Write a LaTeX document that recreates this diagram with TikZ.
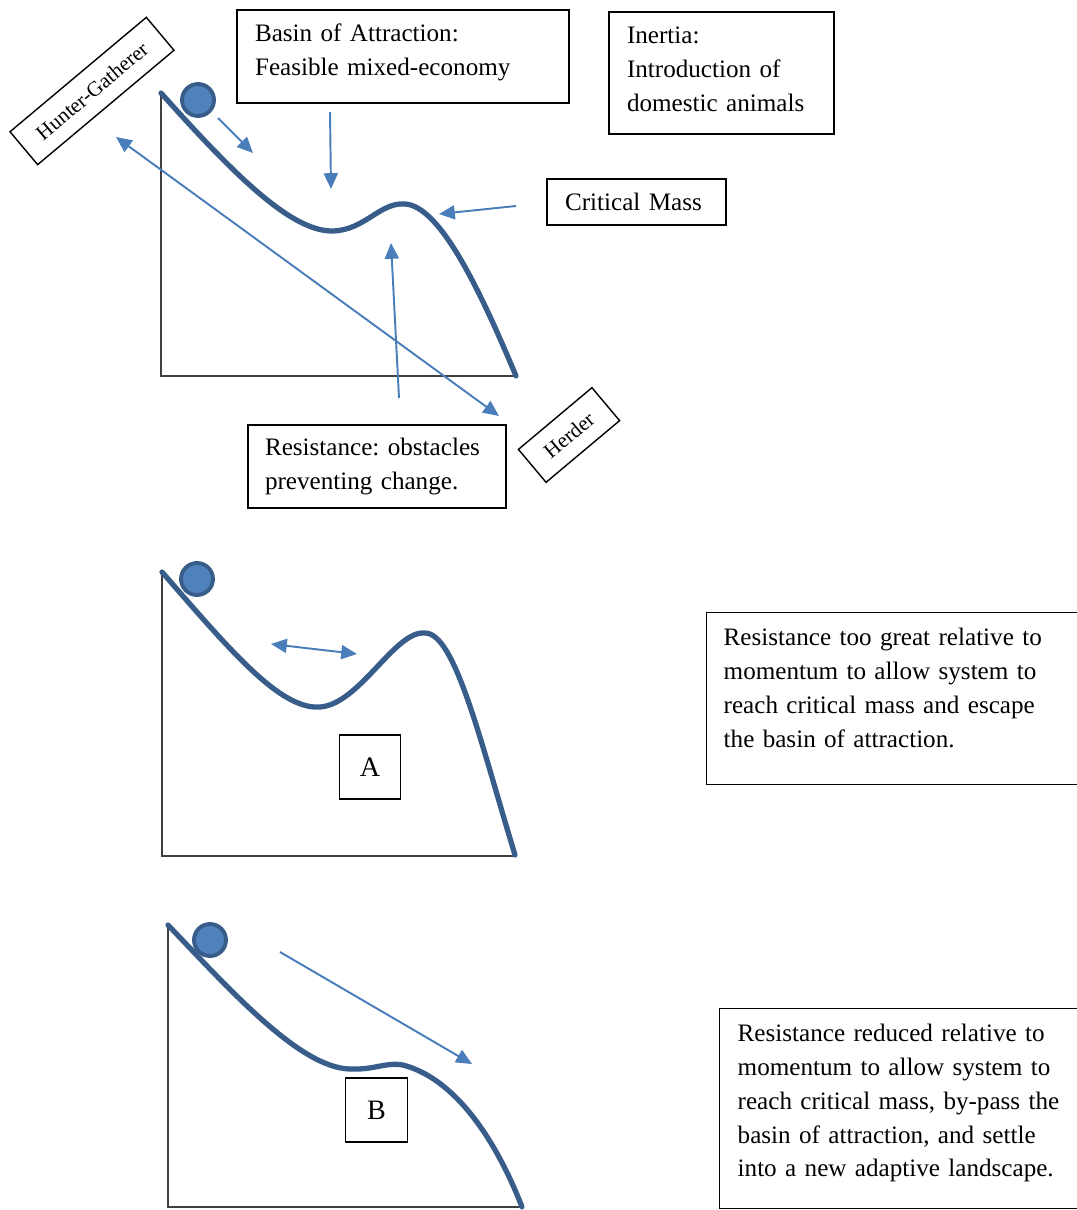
\documentclass[tikz,border=0pt]{standalone}
\usepackage{fontspec}
\setmainfont{Liberation Serif}
\usetikzlibrary{arrows.meta}
\frenchspacing
\definecolor{curveblue}{HTML}{385D8A}
\definecolor{ballblue}{HTML}{4F81BD}
\definecolor{arrowblue}{HTML}{4A7EBB}
\definecolor{axisgray}{HTML}{404040}
\tikzstyle{landscape} = [draw,curveblue,line width=3pt,line cap=round]
\tikzstyle{axis} = [draw,axisgray,line width=1.1pt]
\tikzstyle{edge} = [draw,arrowblue,line width=1.1pt,-{Triangle[length=9pt,width=8pt]}]
\tikzstyle{twoway} = [draw,arrowblue,line width=1.1pt,{Triangle[length=9pt,width=8pt]}-{Triangle[length=9pt,width=8pt]}]
\tikzstyle{txtbox} = [draw,line width=0.8pt,align=left,inner xsep=0.36cm,inner ysep=0pt,font=\fontsize{14.3pt}{19.2pt}\selectfont]
\tikzstyle{tag} = [draw,line width=0.8pt,minimum height=0.86cm,inner sep=0pt,font=\fontsize{12pt}{14pt}\selectfont]
\tikzstyle{letter} = [draw,line width=0.8pt,minimum width=1.23cm,minimum height=1.28cm,font=\fontsize{16pt}{18pt}\selectfont]
\tikzstyle{ball} = [circle,fill=ballblue,draw=curveblue,line width=2.2pt,minimum size=0.64cm,inner sep=0pt]

\begin{document}
\begin{tikzpicture}[x=0.02cm,y=-0.02cm]
\useasboundingbox (0,0) rectangle (1076,1210);

% top landscape
\path[axis] (161,93) -- (161,376) -- (516,376);
\path[landscape] (161,93) .. controls (230,170) and (290,232) .. (333,231)
   .. controls (365,230) and (380,202) .. (405,204)
   .. controls (440,206) and (480,290) .. (516,376);
\node[ball] (balltop) at (198,100) {};

\node[txtbox,text width=5.92cm,minimum height=1.86cm,text depth=27pt] (basin) at (403,56.5) {Basin of Attraction:\\Feasible mixed-economy};
\node[txtbox,text width=3.78cm,minimum height=2.44cm,text depth=42.5pt] (inertia) at (721.5,73) {Inertia:\\Introduction of\\domestic animals};
\node[txtbox,text width=2.86cm,minimum height=0.92cm] (critical) at (636.5,202) {Critical Mass};
\node[txtbox,text width=4.48cm,minimum height=1.66cm,inner xsep=0.34cm] (resist) at (377,466.5) {Resistance: obstacles\\preventing change.};
\node[tag,minimum width=3.56cm,rotate=40] (hunter) at (92,91) {Hunter-Gatherer};
\node[tag,minimum width=1.92cm,rotate=40] (herder) at (569,435) {Herder};

\coordinate (rollS) at (218,118);
\coordinate (rollE) at (253,153);
\coordinate (basinS) at (330,112);
\coordinate (basinE) at (331,189);
\coordinate (critS) at (516,206);
\coordinate (critE) at (439,214);
\coordinate (resS) at (399,398);
\coordinate (resE) at (391,243);
\coordinate (hgEnd) at (116,137);
\coordinate (hdEnd) at (499,416);

\path[edge] (rollS) -- (rollE);
\path[edge] (basinS) -- (basinE);
\path[edge] (critS) -- (critE);
\path[edge] (resS) -- (resE);
\path[twoway] (hgEnd) -- (hdEnd);

% case A
\path[axis] (162,572) -- (162,856) -- (515,856);
\path[landscape] (162,572) .. controls (230,650) and (280,710) .. (320,707)
   .. controls (360,704) and (395,630) .. (425,633)
   .. controls (455,633) and (480,740) .. (515,855);
\node[ball] (ballA) at (197,579) {};
\node[letter] (labA) at (370,767) {A};
\coordinate (swingL) at (271,644);
\coordinate (swingR) at (357,654);
\path[twoway] (swingL) -- (swingR);
\node[txtbox,anchor=north west,text width=7cm,minimum height=3.44cm,inner xsep=0.34cm,text depth=70pt] (noteA) at (706,612) {Resistance too great relative to\\momentum to allow system to\\reach critical mass and escape\\the basin of attraction.};

% case B
\path[axis] (168,925) -- (168,1207) -- (522,1207);
\path[landscape] (168,925) .. controls (230,990) and (300,1068) .. (350,1069)
   .. controls (375,1070) and (385,1062) .. (403,1065)
   .. controls (460,1080) and (500,1150) .. (522,1207);
\node[ball] (ballB) at (210,940) {};
\node[letter] (labB) at (376.5,1110) {B};
\coordinate (passS) at (280,952);
\coordinate (passE) at (472,1064);
\path[edge] (passS) -- (passE);
\node[txtbox,anchor=north west,text width=6.8cm,minimum height=4cm,text depth=86pt] (noteB) at (719,1008) {Resistance reduced relative to\\momentum to allow system to\\reach critical mass, by-pass the\\basin of attraction, and settle\\into a new adaptive landscape.};
\end{tikzpicture}
\end{document}
